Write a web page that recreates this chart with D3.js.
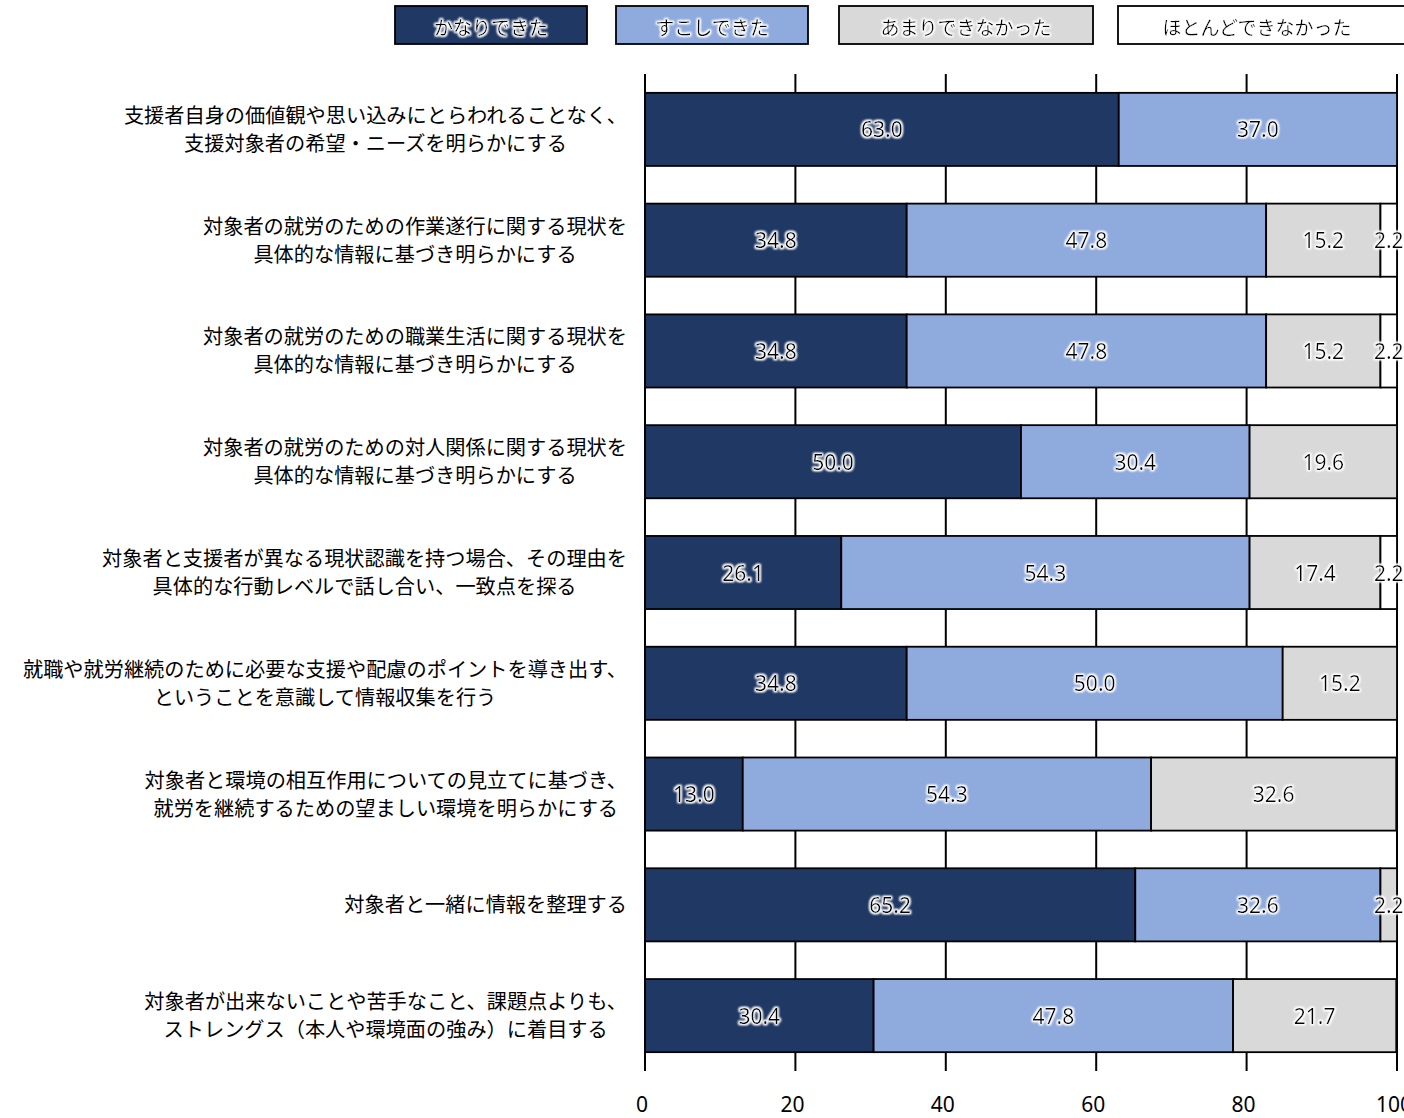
<!DOCTYPE html>
<html><head><meta charset="utf-8">
<script src="https://cdn.jsdelivr.net/npm/d3@7"></script>
<style>
html,body{margin:0;padding:0;background:#fff;}
svg{display:block;}
</style></head>
<body>
<svg id="chart" width="1404" height="1118"></svg>
<script>
const categories = [
  ["支援者自身の価値観や思い込みにとらわれることなく、","支援対象者の希望・ニーズを明らかにする"],
  ["対象者の就労のための作業遂行に関する現状を","具体的な情報に基づき明らかにする"],
  ["対象者の就労のための職業生活に関する現状を","具体的な情報に基づき明らかにする"],
  ["対象者の就労のための対人関係に関する現状を","具体的な情報に基づき明らかにする"],
  ["対象者と支援者が異なる現状認識を持つ場合、その理由を","具体的な行動レベルで話し合い、一致点を探る"],
  ["就職や就労継続のために必要な支援や配慮のポイントを導き出す、","ということを意識して情報収集を行う"],
  ["対象者と環境の相互作用についての見立てに基づき、","就労を継続するための望ましい環境を明らかにする"],
  ["対象者と一緒に情報を整理する"],
  ["対象者が出来ないことや苦手なこと、課題点よりも、","ストレングス（本人や環境面の強み）に着目する"]
];
const seriesNames = ["かなりできた","すこしできた","あまりできなかった","ほとんどできなかった"];
const seriesColors = ["#203864","#8FAADC","#D9D9D9","#FFFFFF"];
const kanari   = [63.0, 34.8, 34.8, 50.0, 26.1, 34.8, 13.0, 65.2, 30.4];
const sukoshi  = [37.0, 47.8, 47.8, 30.4, 54.3, 50.0, 54.3, 32.6, 47.8];
const amari    = [0,    15.2, 15.2, 19.6, 17.4, 15.2, 32.6, 2.2,  21.7];
const hotondo  = [0,    2.2,  2.2,  0,    2.2,  0,    0,    0,    0];
const xTicks = [0,20,40,60,80,100];

(function(){
const seriesValues = [kanari, sukoshi, amari, hotondo];
const svg = d3.select("#chart");
const pL = 645, pR = 1397, pT = 74, pB = 1071;

const x = d3.scaleLinear().domain([0,100]).range([pL,pR]);
const y = d3.scaleBand().domain(d3.range(categories.length)).range([pT,pB]).paddingInner(0.34).paddingOuter(0.17);

// gridlines
svg.append("g").selectAll("line").data(xTicks).join("line")
  .attr("x1",d=>x(d)).attr("x2",d=>x(d)).attr("y1",pT).attr("y2",pB)
  .attr("stroke","#000").attr("stroke-width",2);

// halo filter
const defs = svg.append("defs");
const f = defs.append("filter").attr("id","glow").attr("x","-30%").attr("y","-40%").attr("width","160%").attr("height","180%");
f.append("feMorphology").attr("in","SourceAlpha").attr("operator","dilate").attr("radius",1.2).attr("result","d");
f.append("feGaussianBlur").attr("in","d").attr("stdDeviation",1.1).attr("result","b");
f.append("feFlood").attr("flood-color","#fff").attr("result","c");
f.append("feComposite").attr("in","c").attr("in2","b").attr("operator","in").attr("result","g");
const fm = f.append("feMerge");
fm.append("feMergeNode").attr("in","g");
fm.append("feMergeNode").attr("in","g");
fm.append("feMergeNode").attr("in","SourceGraphic");

// stacked segments
const segs = [];
categories.forEach((c,i)=>{
  let acc = 0;
  seriesValues.forEach((vals,s)=>{
    const v = vals[i];
    if (v>0) segs.push({i,s,x0:acc,x1:acc+v,v});
    acc += v;
  });
});
svg.append("g").selectAll("rect").data(segs).join("rect")
  .attr("x",d=>x(d.x0)).attr("width",d=>x(d.x1)-x(d.x0))
  .attr("y",d=>y(d.i)).attr("height",y.bandwidth())
  .attr("fill",d=>seriesColors[d.s]).attr("stroke","#000").attr("stroke-width",1.8);

svg.append("g").selectAll("text").data(segs).join("text")
  .attr("x",d=>x((d.x0+d.x1)/2)).attr("y",d=>y(d.i)+y.bandwidth()/2)
  .attr("text-anchor","middle").attr("dominant-baseline","central")
  .attr("font-family","'Noto Sans', sans-serif").attr("font-size",21)
  .attr("fill","#000").attr("filter","url(#glow)")
  .text(d=>d.v.toFixed(1));

// axis line at 0
svg.append("line").attr("x1",x(0)).attr("x2",x(0)).attr("y1",pT).attr("y2",pB).attr("stroke","#000").attr("stroke-width",2);

// x tick labels
svg.append("g").selectAll("text").data(xTicks).join("text")
  .attr("x",d=>x(d)-3).attr("y",1104)
  .attr("text-anchor","middle").attr("dominant-baseline","central")
  .attr("font-family","'Noto Sans', sans-serif").attr("font-size",21)
  .text(d=>d);

// category labels (one text per category, lines as tspans)
categories.forEach((lines,i)=>{
  const cy = y(i)+y.bandwidth()/2;
  const lh = 28;
  const t = svg.append("text")
    .attr("text-anchor","middle")
    .attr("font-family","'Noto Sans CJK JP', sans-serif").attr("font-size",20.2)
    .attr("fill","#000");
  lines.forEach((s,k)=>{
    t.append("tspan").attr("x",0).attr("y",cy + (k-(lines.length-1)/2)*lh + 7.5).text(s);
  });
  const bb = t.node().getBBox();
  t.attr("transform",`translate(${627 - (bb.x+bb.width)},0)`);
});

// legend
const legendBoxes = [[395,587],[616,808],[839,1093],[1118,1410]];
const lg = svg.append("g");
seriesNames.forEach((n,s)=>{
  const [a,b] = legendBoxes[s];
  lg.append("rect").attr("x",a).attr("y",6).attr("width",b-a).attr("height",38)
    .attr("fill",seriesColors[s]).attr("stroke","#000").attr("stroke-width",1.8);
  lg.append("text").attr("x",(a+Math.min(b,1404))/2+ (s===3? -4:0)).attr("y",26)
    .attr("text-anchor","middle").attr("dominant-baseline","central")
    .attr("font-family","'Noto Sans CJK JP', sans-serif").attr("font-size",19)
    .attr("fill","#000").attr("filter","url(#glow)").text(n);
});
})();
</script>
</body></html>
